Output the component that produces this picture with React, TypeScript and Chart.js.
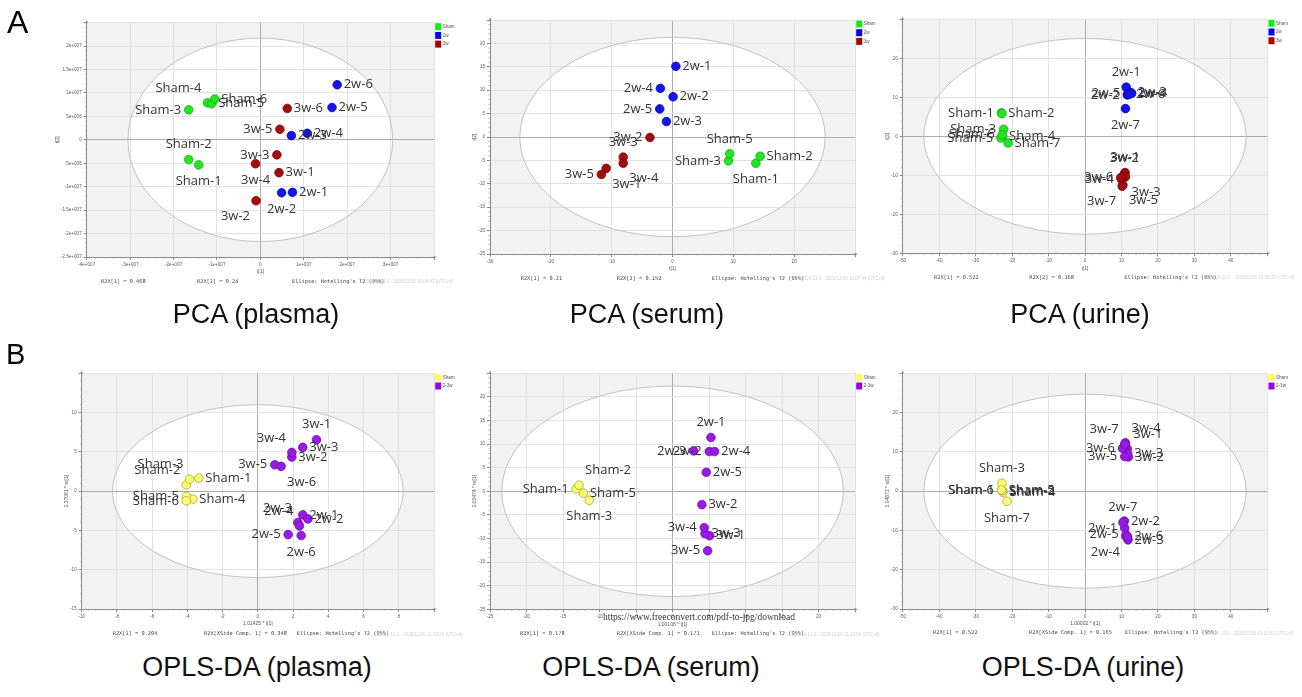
import React, { useEffect, useRef } from 'react';
import { Chart, registerables } from 'chart.js';

Chart.register(...registerables);

// ---------------- PCA (plasma) ----------------
const pcaPlasmaShamLabels = ['Sham-1', 'Sham-2', 'Sham-3', 'Sham-4', 'Sham-5', 'Sham-6'];
const pcaPlasmaShamX = [-1.42e7, -1.65e7, -1.65e7, -1.22e7, -1.12e7, -1.05e7];
const pcaPlasmaShamY = [-5.35e6, -4.2e6, 6.4e6, 7.9e6, 7.7e6, 8.7e6];
const pcaPlasmaShamSide = ['b', 'a', 'l', 'al', 'r', 'r'];
const pcaPlasma2wLabels = ['2w-1', '2w-2', '2w-3', '2w-4', '2w-5', '2w-6'];
const pcaPlasma2wX = [0.74e7, 0.49e7, 0.715e7, 1.08e7, 1.65e7, 1.77e7];
const pcaPlasma2wY = [-1.12e7, -1.13e7, 0.9e6, 1.4e6, 6.9e6, 1.176e7];
const pcaPlasma2wSide = ['r', 'b', 'r', 'r', 'r', 'r'];
const pcaPlasma3wLabels = ['3w-1', '3w-2', '3w-3', '3w-4', '3w-5', '3w-6'];
const pcaPlasma3wX = [0.43e7, -0.1e7, 0.38e7, -0.11e7, 0.45e7, 0.62e7];
const pcaPlasma3wY = [-7.0e6, -1.3e7, -3.2e6, -5.1e6, 2.25e6, 6.7e6];
const pcaPlasma3wSide = ['r', 'bl', 'l', 'b', 'l', 'r'];
const pcaPlasmaXTicks = [-4e7, -3e7, -2e7, -1e7, 0, 1e7, 2e7, 3e7, 4e7];
const pcaPlasmaYTicks = [-2.5e7, -2e7, -1.5e7, -1e7, -5e6, 0, 5e6, 1e7, 1.5e7, 2e7, 2.5e7];

// ---------------- PCA (serum) ----------------
const pcaSerumShamLabels = ['Sham-1', 'Sham-2', 'Sham-3', 'Sham-5'];
const pcaSerumShamX = [13.7, 14.4, 9.2, 9.4];
const pcaSerumShamY = [-5.6, -4.1, -5.1, -3.6];
const pcaSerumShamSide = ['b', 'r', 'l', 'a'];
const pcaSerum2wLabels = ['2w-1', '2w-2', '2w-3', '2w-4', '2w-5'];
const pcaSerum2wX = [0.55, 0.1, -1.0, -2.0, -2.1];
const pcaSerum2wY = [15.1, 8.6, 3.3, 10.4, 6.0];
const pcaSerum2wSide = ['r', 'r', 'r', 'l', 'l'];
const pcaSerum3wLabels = ['3w-1', '3w-2', '3w-3', '3w-4', '3w-5'];
const pcaSerum3wX = [-10.9, -3.7, -8.1, -8.1, -11.7];
const pcaSerum3wY = [-6.7, -0.1, -4.3, -5.6, -8.0];
const pcaSerum3wSide = ['br', 'l', 'a', 'br', 'l'];
const pcaSerumXTicks = [-30, -20, -10, 0, 10, 20, 30];
const pcaSerumYTicks = [-25, -20, -15, -10, -5, 0, 5, 10, 15, 20, 25];

// ---------------- PCA (urine) ----------------
const pcaUrineShamLabels = ['Sham-1', 'Sham-2', 'Sham-3', 'Sham-4', 'Sham-5', 'Sham-6', 'Sham-7'];
const pcaUrineShamX = [-22.9, -22.8, -22.3, -22.6, -23.1, -22.7, -21.1];
const pcaUrineShamY = [6.0, 5.8, 1.8, 0.0, -0.4, 0.4, -1.7];
const pcaUrineShamSide = ['l', 'r', 'l', 'r', 'l', 'l', 'r'];
const pcaUrine2wLabels = ['2w-1', '2w-2', '2w-3', '2w-4', '2w-5', '2w-6', '2w-7'];
const pcaUrine2wX = [11.3, 11.6, 12.6, 12.8, 11.8, 12.2, 11.1];
const pcaUrine2wY = [12.6, 10.6, 11.2, 11.0, 11.0, 10.8, 7.1];
const pcaUrine2wSide = ['a', 'l', 'r', 'r', 'l', 'r', 'b'];
const pcaUrine3wLabels = ['3w-1', '3w-2', '3w-3', '3w-4', '3w-5', '3w-6', '3w-7'];
const pcaUrine3wX = [11.0, 10.8, 11.1, 10.0, 10.4, 9.8, 10.2];
const pcaUrine3wY = [-9.3, -9.6, -10.4, -11.0, -12.5, -10.6, -12.8];
const pcaUrine3wSide = ['a', 'a', 'br', 'l', 'br', 'l', 'bl'];
const pcaUrineXTicks = [-50, -40, -30, -20, -10, 0, 10, 20, 30, 40, 50];
const pcaUrineYTicks = [-30, -20, -10, 0, 10, 20, 30];

// ---------------- OPLS-DA (plasma) ----------------
const oplsPlasmaShamLabels = ['Sham-1', 'Sham-2', 'Sham-3', 'Sham-4', 'Sham-5', 'Sham-6'];
const oplsPlasmaShamX = [-3.35, -4.06, -3.88, -3.69, -4.06, -4.06];
const oplsPlasmaShamY = [1.66, 0.81, 1.53, -1.02, -0.68, -1.23];
const oplsPlasmaShamSide = ['r', 'al', 'al', 'r', 'l', 'l'];
const oplsPlasmaTreatLabels = ['2w-1', '2w-2', '2w-3', '2w-4', '2w-5', '2w-6', '3w-1', '3w-2', '3w-3', '3w-4', '3w-5', '3w-6'];
const oplsPlasmaTreatX = [2.55, 2.84, 2.27, 2.36, 1.72, 2.46, 3.33, 1.93, 2.55, 1.93, 0.96, 1.32];
const oplsPlasmaTreatY = [-3.02, -3.53, -4.0, -4.42, -5.53, -5.65, 6.55, 4.34, 5.57, 4.93, 3.36, 3.15];
const oplsPlasmaTreatSide = ['r', 'r', 'al', 'al', 'l', 'b', 'a', 'r', 'r', 'al', 'l', 'br'];
const oplsPlasmaXTicks = [-10, -8, -6, -4, -2, 0, 2, 4, 6, 8, 10];
const oplsPlasmaYTicks = [-15, -10, -5, 0, 5, 10, 15];

// ---------------- OPLS-DA (serum) ----------------
const oplsSerumShamLabels = ['Sham-1', 'Sham-2', 'Sham-3', 'Sham-5'];
const oplsSerumShamX = [-13.2, -12.8, -11.4, -12.2];
const oplsSerumShamY = [0.5, 1.3, -1.9, -0.4];
const oplsSerumShamSide = ['l', 'ar', 'b', 'r'];
const oplsSerumTreatLabels = ['2w-1', '2w-2', '2w-3', '2w-4', '2w-5', '3w-1', '3w-2', '3w-3', '3w-4', '3w-5'];
const oplsSerumTreatX = [5.27, 5.04, 2.89, 5.77, 4.63, 5.09, 4.03, 4.45, 4.35, 4.81];
const oplsSerumTreatY = [11.4, 8.42, 8.56, 8.42, 4.03, -9.41, -2.83, -8.99, -7.71, -12.6];
const oplsSerumTreatSide = ['a', 'l', 'l', 'r', 'r', 'r', 'r', 'r', 'l', 'l'];
const oplsSerumXTicks = [-25, -20, -15, -10, -5, 0, 5, 10, 15, 20, 25];
const oplsSerumYTicks = [-25, -20, -15, -10, -5, 0, 5, 10, 15, 20, 25];

// ---------------- OPLS-DA (urine) ----------------
const oplsUrineShamLabels = ['Sham-1', 'Sham-2', 'Sham-3', 'Sham-4', 'Sham-5', 'Sham-6', 'Sham-7'];
const oplsUrineShamX = [-22.8, -22.6, -22.8, -22.5, -22.7, -22.9, -21.4];
const oplsUrineShamY = [0.2, 0.0, 2.0, -0.3, 0.1, 0.3, -2.6];
const oplsUrineShamSide = ['l', 'r', 'a', 'r', 'r', 'l', 'b'];
const oplsUrineTreatLabels = ['2w-1', '2w-2', '2w-3', '2w-4', '2w-5', '2w-6', '2w-7', '3w-1', '3w-2', '3w-3', '3w-4', '3w-5', '3w-6', '3w-7'];
const oplsUrineTreatX = [10.9, 10.8, 11.8, 11.2, 11.3, 11.7, 10.4, 11.6, 11.9, 11.7, 11.1, 10.9, 10.3, 10.9];
const oplsUrineTreatY = [-9.4, -7.6, -12.4, -11.5, -11.1, -11.6, -8.0, 10.8, 8.7, 9.6, 12.3, 8.8, 10.9, 12.0];
const oplsUrineTreatSide = ['l', 'r', 'r', 'bl', 'l', 'r', 'a', 'ar', 'r', 'r', 'ar', 'l', 'l', 'al'];
const oplsUrineXTicks = [-50, -40, -30, -20, -10, 0, 10, 20, 30, 40, 50];
const oplsUrineYTicks = [-30, -20, -10, 0, 10, 20, 30];

// ---------------- styling ----------------
const GREEN = { fill: '#22e622', border: '#18a818' };
const BLUE = { fill: '#1414f0', border: '#0a0aa0' };
const RED = { fill: '#a50d0d', border: '#700808' };
const YELLOW = { fill: '#ffff6e', border: '#a3a345' };
const PURPLE = { fill: '#9a19e6', border: '#6a0fa3' };

const TICK_FONT = '"Liberation Sans", Arial, sans-serif';
const LABEL_FONT = '"Open Sans", "Noto Sans", sans-serif';
const MONO_FONT = '"DejaVu Sans Mono", "Liberation Mono", monospace';

type Group = { name: string; color: { fill: string; border: string }; labels: string[]; x: number[]; y: number[]; side: string[] };

type PanelCfg = {
  canvas: { left: number; top: number; width: number; height: number };
  plot: { l: number; t: number; r: number; b: number };
  xMin: number; xMax: number; yMin: number; yMax: number;
  xTicks: number[]; yTicks: number[];
  ellipse: [number, number];
  sci: boolean;
  groups: Group[];
  legend: { name: string; color: string }[];
  xTitle: string; yTitle: string;
  footers: string[]; footerX: number[]; footerDy: number;
  watermark: string; watermarkDx: number;
};

const fmtSci = (v: number) => {
  if (v === 0) return '0';
  const e = Math.floor(Math.log10(Math.abs(v)) + 1e-9);
  const m = +(v / Math.pow(10, e)).toFixed(3);
  return m + 'e+' + String(e).padStart(3, '0');
};

const PCA_LEGEND = [
  { name: 'Sham', color: '#11ee11' },
  { name: '2w', color: '#0000ee' },
  { name: '3w', color: '#aa0000' },
];
const OPLS_LEGEND = [
  { name: 'Sham', color: '#ffff55' },
  { name: '2-3w', color: '#9900ee' },
];

const PANELS: PanelCfg[] = [
  {
    canvas: { left: 20, top: 0, width: 450, height: 300 },
    plot: { l: 86.7, t: 22.7, r: 434, b: 257 },
    xMin: -4e7, xMax: 4e7, yMin: -2.5e7, yMax: 2.5e7,
    xTicks: pcaPlasmaXTicks, yTicks: pcaPlasmaYTicks, ellipse: [3.05e7, 2.17e7], sci: true,
    groups: [
      { name: 'Sham', color: GREEN, labels: pcaPlasmaShamLabels, x: pcaPlasmaShamX, y: pcaPlasmaShamY, side: pcaPlasmaShamSide },
      { name: '2w', color: BLUE, labels: pcaPlasma2wLabels, x: pcaPlasma2wX, y: pcaPlasma2wY, side: pcaPlasma2wSide },
      { name: '3w', color: RED, labels: pcaPlasma3wLabels, x: pcaPlasma3wX, y: pcaPlasma3wY, side: pcaPlasma3wSide },
    ],
    legend: PCA_LEGEND, xTitle: 't[1]', yTitle: 't[2]',
    footers: ['R2X[1] = 0.468', 'R2X[2] = 0.24', "Ellipse: Hotelling's T2 (95%)"], footerX: [14.3, 110.3, 205.3], footerDy: 24.7,
    watermark: 'SIMCA 13.0 - 2020/12/16 10:08:43 (UTC+8)', watermarkDx: -69,
  },
  {
    canvas: { left: 440, top: 0, width: 450, height: 300 },
    plot: { l: 490, t: 20, r: 855, b: 254 },
    xMin: -30, xMax: 30, yMin: -25, yMax: 25,
    xTicks: pcaSerumXTicks, yTicks: pcaSerumYTicks, ellipse: [25.1, 21.3], sci: false,
    groups: [
      { name: 'Sham', color: GREEN, labels: pcaSerumShamLabels, x: pcaSerumShamX, y: pcaSerumShamY, side: pcaSerumShamSide },
      { name: '2w', color: BLUE, labels: pcaSerum2wLabels, x: pcaSerum2wX, y: pcaSerum2wY, side: pcaSerum2wSide },
      { name: '3w', color: RED, labels: pcaSerum3wLabels, x: pcaSerum3wX, y: pcaSerum3wY, side: pcaSerum3wSide },
    ],
    legend: PCA_LEGEND, xTitle: 't[1]', yTitle: 't[2]',
    footers: ['R2X[1] = 0.21', 'R2X[2] = 0.152', "Ellipse: Hotelling's T2 (95%)"], footerX: [30.7, 126.7, 221.7], footerDy: 24.3,
    watermark: 'SIMCA 13.0 - 2020/12/16 10:07:44 (UTC+8)', watermarkDx: -58,
  },
  {
    canvas: { left: 860, top: 0, width: 442, height: 300 },
    plot: { l: 902.7, t: 19.3, r: 1267.3, b: 253.3 },
    xMin: -50, xMax: 50, yMin: -30, yMax: 30,
    xTicks: pcaUrineXTicks, yTicks: pcaUrineYTicks, ellipse: [44.2, 25.1], sci: false,
    groups: [
      { name: 'Sham', color: GREEN, labels: pcaUrineShamLabels, x: pcaUrineShamX, y: pcaUrineShamY, side: pcaUrineShamSide },
      { name: '2w', color: BLUE, labels: pcaUrine2wLabels, x: pcaUrine2wX, y: pcaUrine2wY, side: pcaUrine2wSide },
      { name: '3w', color: RED, labels: pcaUrine3wLabels, x: pcaUrine3wX, y: pcaUrine3wY, side: pcaUrine3wSide },
    ],
    legend: PCA_LEGEND, xTitle: 't[1]', yTitle: 't[2]',
    footers: ['R2X[1] = 0.522', 'R2X[2] = 0.168', "Ellipse: Hotelling's T2 (95%)"], footerX: [31.3, 126.6, 221.6], footerDy: 24.4,
    watermark: 'SIMCA 13.0 - 2020/12/16 10:08:25 (UTC+8)', watermarkDx: -61,
  },
  {
    canvas: { left: 20, top: 345, width: 450, height: 300 },
    plot: { l: 81.7, t: 373.3, r: 434, b: 609 },
    xMin: -10, xMax: 10, yMin: -15, yMax: 15,
    xTicks: oplsPlasmaXTicks, yTicks: oplsPlasmaYTicks, ellipse: [8.25, 11.0], sci: false,
    groups: [
      { name: 'Sham', color: YELLOW, labels: oplsPlasmaShamLabels, x: oplsPlasmaShamX, y: oplsPlasmaShamY, side: oplsPlasmaShamSide },
      { name: '2-3w', color: PURPLE, labels: oplsPlasmaTreatLabels, x: oplsPlasmaTreatX, y: oplsPlasmaTreatY, side: oplsPlasmaTreatSide },
    ],
    legend: OPLS_LEGEND, xTitle: '1.01425 * t[1]', yTitle: '1.37061 * to[1]',
    footers: ['R2X[1] = 0.204', 'R2X[XSide Comp. 1] = 0.348', "Ellipse: Hotelling's T2 (95%)"], footerX: [31, 122.3, 215], footerDy: 25,
    watermark: 'SIMCA 13.0 - 2020/12/16 11:13:59 (UTC+8)', watermarkDx: -59,
  },
  {
    canvas: { left: 440, top: 345, width: 450, height: 300 },
    plot: { l: 490, t: 373.3, r: 855, b: 609.3 },
    xMin: -25, xMax: 25, yMin: -25, yMax: 25,
    xTicks: oplsSerumXTicks, yTicks: oplsSerumYTicks, ellipse: [23.4, 22.3], sci: false,
    groups: [
      { name: 'Sham', color: YELLOW, labels: oplsSerumShamLabels, x: oplsSerumShamX, y: oplsSerumShamY, side: oplsSerumShamSide },
      { name: '2-3w', color: PURPLE, labels: oplsSerumTreatLabels, x: oplsSerumTreatX, y: oplsSerumTreatY, side: oplsSerumTreatSide },
    ],
    legend: OPLS_LEGEND, xTitle: '1.00108 * t[1]', yTitle: '1.05474 * to[1]',
    footers: ['R2X[1] = 0.178', 'R2X[XSide Comp. 1] = 0.171', "Ellipse: Hotelling's T2 (95%)"], footerX: [30, 126.7, 221.7], footerDy: 24.7,
    watermark: 'SIMCA 13.0 - 2020/12/16 11:15:54 (UTC+8)', watermarkDx: -63,
  },
  {
    canvas: { left: 860, top: 345, width: 442, height: 300 },
    plot: { l: 902.7, t: 373.3, r: 1267.3, b: 609 },
    xMin: -50, xMax: 50, yMin: -30, yMax: 30,
    xTicks: oplsUrineXTicks, yTicks: oplsUrineYTicks, ellipse: [44.2, 24.7], sci: false,
    groups: [
      { name: 'Sham', color: YELLOW, labels: oplsUrineShamLabels, x: oplsUrineShamX, y: oplsUrineShamY, side: oplsUrineShamSide },
      { name: '2-3w', color: PURPLE, labels: oplsUrineTreatLabels, x: oplsUrineTreatX, y: oplsUrineTreatY, side: oplsUrineTreatSide },
    ],
    legend: OPLS_LEGEND, xTitle: '1.00002 * t[1]', yTitle: '1.04872 * to[1]',
    footers: ['R2X[1] = 0.522', 'R2X[XSide Comp. 1] = 0.165', "Ellipse: Hotelling's T2 (95%)"], footerX: [30.3, 126.3, 222.3], footerDy: 24,
    watermark: 'SIMCA 13.0 - 2020/12/16 10:10:50 (UTC+8)', watermarkDx: -62,
  },
];

function drawLabel(ctx: CanvasRenderingContext2D, text: string, px: number, py: number, side: string) {
  let align: CanvasTextAlign = 'left';
  let x = px;
  let y = py;
  switch (side) {
    case 'r': x = px + 6.5; break;
    case 'l': align = 'right'; x = px - 7.5; break;
    case 'a': align = 'center'; y = py - 15; break;
    case 'b': align = 'center'; y = py + 16.5; break;
    case 'al': align = 'right'; x = px - 6; y = py - 14.5; break;
    case 'ar': x = px + 6; y = py - 14.5; break;
    case 'bl': align = 'right'; x = px - 6; y = py + 15.5; break;
    case 'br': x = px + 6; y = py + 15.5; break;
  }
  ctx.textAlign = align;
  ctx.textBaseline = 'middle';
  ctx.fillText(text, x, y);
}

function Panel({ cfg }: { cfg: PanelCfg }) {
  const ref = useRef<HTMLCanvasElement | null>(null);
  useEffect(() => {
    if (!ref.current) return;
    const c = cfg.canvas;
    const p = cfg.plot;
    const yAxisW = p.l - c.left;
    const xAxisH = c.top + c.height - p.b;
    const fmt = (v: number) => (cfg.sci ? fmtSci(v) : String(v));
    const gridColor = (ctx: any) => (ctx.tick && ctx.tick.value === 0 ? '#acacac' : '#e2e2e2');

    const simcaPlugin = {
      id: 'simca',
      beforeDraw(chart: any) {
        const { ctx, chartArea: a, scales } = chart;
        ctx.save();
        ctx.fillStyle = '#f2f2f2';
        ctx.fillRect(a.left, a.top, a.right - a.left, a.bottom - a.top);
        const cx = scales.x.getPixelForValue(0);
        const cy = scales.y.getPixelForValue(0);
        const rx = scales.x.getPixelForValue(cfg.ellipse[0]) - cx;
        const ry = cy - scales.y.getPixelForValue(cfg.ellipse[1]);
        ctx.beginPath();
        ctx.ellipse(cx, cy, rx, ry, 0, 0, Math.PI * 2);
        ctx.fillStyle = '#ffffff';
        ctx.fill();
        ctx.restore();
      },
      beforeDatasetsDraw(chart: any) {
        const { ctx, chartArea: a, scales } = chart;
        ctx.save();
        const cx = scales.x.getPixelForValue(0);
        const cy = scales.y.getPixelForValue(0);
        const rx = scales.x.getPixelForValue(cfg.ellipse[0]) - cx;
        const ry = cy - scales.y.getPixelForValue(cfg.ellipse[1]);
        ctx.beginPath();
        ctx.ellipse(cx, cy, rx, ry, 0, 0, Math.PI * 2);
        ctx.strokeStyle = '#c2c2c2';
        ctx.lineWidth = 1;
        ctx.stroke();
        // minor ticks
        ctx.strokeStyle = '#9a9a9a';
        ctx.lineWidth = 0.6;
        ctx.beginPath();
        const xs = cfg.xTicks;
        for (let i = 0; i < xs.length - 1; i++) {
          const st = (xs[i + 1] - xs[i]) / 5;
          for (let k = 1; k < 5; k++) {
            const px = scales.x.getPixelForValue(xs[i] + st * k);
            ctx.moveTo(px, a.bottom);
            ctx.lineTo(px, a.bottom + 1.8);
          }
        }
        const ys = cfg.yTicks;
        for (let i = 0; i < ys.length - 1; i++) {
          const st = (ys[i + 1] - ys[i]) / 5;
          for (let k = 1; k < 5; k++) {
            const py = scales.y.getPixelForValue(ys[i] + st * k);
            ctx.moveTo(a.left, py);
            ctx.lineTo(a.left - 1.8, py);
          }
        }
        ctx.stroke();
        // axis arrows
        ctx.fillStyle = '#8a8a8a';
        ctx.beginPath();
        ctx.moveTo(a.left, a.top - 3);
        ctx.lineTo(a.left - 1.3, a.top + 0.5);
        ctx.lineTo(a.left + 1.3, a.top + 0.5);
        ctx.fill();
        ctx.beginPath();
        ctx.moveTo(a.right + 3, a.bottom);
        ctx.lineTo(a.right - 0.5, a.bottom - 1.3);
        ctx.lineTo(a.right - 0.5, a.bottom + 1.3);
        ctx.fill();
        ctx.restore();
      },
      afterDatasetsDraw(chart: any) {
        const { ctx, chartArea: a, scales } = chart;
        ctx.save();
        // point labels
        ctx.font = `13px ${LABEL_FONT}`;
        ctx.fillStyle = '#333333';
        cfg.groups.forEach((g) => {
          g.labels.forEach((lab, i) => {
            const px = scales.x.getPixelForValue(g.x[i]);
            const py = scales.y.getPixelForValue(g.y[i]);
            drawLabel(ctx, lab, px, py, g.side[i]);
          });
        });
        // legend
        cfg.legend.forEach((e, i) => {
          const lx = a.right + 1.2;
          const ly = a.top + 0.5 + i * 8.7;
          ctx.fillStyle = e.color;
          ctx.fillRect(lx, ly, 6, 7);
          ctx.fillStyle = '#555';
          ctx.font = `4.6px ${TICK_FONT}`;
          ctx.textAlign = 'left';
          ctx.textBaseline = 'middle';
          ctx.fillText(e.name, lx + 7.5, ly + 3.5);
        });
        // axis titles
        ctx.fillStyle = '#555';
        ctx.font = `5px ${TICK_FONT}`;
        ctx.textAlign = 'center';
        ctx.textBaseline = 'middle';
        ctx.fillText(cfg.xTitle, (a.left + a.right) / 2, a.bottom + 15);
        ctx.font = `4.5px ${TICK_FONT}`;
        let maxW = 0;
        cfg.yTicks.forEach((v) => {
          if (v === cfg.yMax) return;
          maxW = Math.max(maxW, ctx.measureText(fmt(v)).width);
        });
        ctx.save();
        ctx.translate(a.left - 5 - maxW - 4, (a.top + a.bottom) / 2);
        ctx.rotate(-Math.PI / 2);
        ctx.font = `5px ${TICK_FONT}`;
        ctx.fillText(cfg.yTitle, 0, 0);
        ctx.restore();
        // footers
        ctx.font = `5.3px ${MONO_FONT}`;
        ctx.fillStyle = '#444';
        ctx.textAlign = 'left';
        cfg.footers.forEach((f, i) => {
          ctx.fillText(f, a.left + cfg.footerX[i], a.bottom + cfg.footerDy);
        });
        ctx.font = `4.5px ${TICK_FONT}`;
        ctx.fillStyle = '#cfcfcf';
        ctx.fillText(cfg.watermark, a.right + cfg.watermarkDx, a.bottom + cfg.footerDy + 0.5);
        ctx.restore();
      },
    };

    const tickOpts = {
      autoSkip: false,
      maxRotation: 0,
      minRotation: 0,
      padding: 2,
      color: '#5a5a5a',
      font: { size: 4.6, family: TICK_FONT },
    };

    const chart = new Chart(ref.current, {
      type: 'scatter',
      data: {
        datasets: cfg.groups.map((g) => ({
          label: g.name,
          data: g.x.map((v, i) => ({ x: v, y: g.y[i] })),
          backgroundColor: g.color.fill,
          borderColor: g.color.border,
          borderWidth: 0.8,
          pointRadius: 4.3,
          pointHoverRadius: 4.3,
        })),
      },
      options: {
        animation: false,
        responsive: false,
        maintainAspectRatio: false,
        events: [],
        layout: { padding: { top: p.t - c.top, right: c.left + c.width - p.r, left: 0, bottom: 0 } },
        plugins: { legend: { display: false }, tooltip: { enabled: false } },
        scales: {
          x: {
            type: 'linear',
            min: cfg.xMin,
            max: cfg.xMax,
            afterBuildTicks: (s: any) => { s.ticks = cfg.xTicks.map((v) => ({ value: v })); },
            afterFit: (s: any) => { s.height = xAxisH; },
            ticks: { ...tickOpts, callback: (v: any) => (v === cfg.xMax ? '' : fmt(Number(v))) },
            grid: { color: gridColor, tickColor: '#8a8a8a', tickLength: 3, lineWidth: 1 },
            border: { color: '#8a8a8a', width: 1 },
          },
          y: {
            type: 'linear',
            min: cfg.yMin,
            max: cfg.yMax,
            afterBuildTicks: (s: any) => { s.ticks = cfg.yTicks.map((v) => ({ value: v })); },
            afterFit: (s: any) => { s.width = yAxisW; },
            ticks: { ...tickOpts, callback: (v: any) => (v === cfg.yMax ? '' : fmt(Number(v))) },
            grid: { color: gridColor, tickColor: '#8a8a8a', tickLength: 3, lineWidth: 1 },
            border: { color: '#8a8a8a', width: 1 },
          },
        },
      } as any,
      plugins: [simcaPlugin],
    });
    return () => chart.destroy();
  }, [cfg]);

  return (
    <canvas
      ref={ref}
      width={cfg.canvas.width}
      height={cfg.canvas.height}
      style={{
        position: 'absolute',
        left: cfg.canvas.left,
        top: cfg.canvas.top,
        width: cfg.canvas.width,
        height: cfg.canvas.height,
      }}
    />
  );
}

const CAPTIONS = [
  { text: 'PCA (plasma)', x: 256, baseline: 323.3 },
  { text: 'PCA (serum)', x: 647, baseline: 323.3 },
  { text: 'PCA (urine)', x: 1080, baseline: 323.3 },
  { text: 'OPLS-DA (plasma)', x: 257, baseline: 676.5 },
  { text: 'OPLS-DA (serum)', x: 651, baseline: 676.5 },
  { text: 'OPLS-DA (urine)', x: 1083, baseline: 676.5 },
];

export default function App() {
  const capFont = '"Liberation Sans", Arial, sans-serif';
  return (
    <div style={{ position: 'absolute', left: 0, top: 0, width: 1302, height: 697, background: '#fff', overflow: 'hidden' }}>
      {PANELS.map((cfg, i) => (
        <Panel key={i} cfg={cfg} />
      ))}
      <div style={{ position: 'absolute', left: 7, top: 5.9, fontFamily: capFont, fontSize: 32, lineHeight: '32px', color: '#000' }}>A</div>
      <div style={{ position: 'absolute', left: 6, top: 339.5, fontFamily: capFont, fontSize: 29, lineHeight: '29px', color: '#000' }}>B</div>
      {CAPTIONS.map((c, i) => (
        <div
          key={i}
          style={{
            position: 'absolute',
            left: c.x - 200,
            width: 400,
            top: c.baseline - 22.8,
            textAlign: 'center',
            fontFamily: capFont,
            fontSize: 27,
            lineHeight: '27px',
            color: '#111',
            whiteSpace: 'nowrap',
          }}
        >
          {c.text}
        </div>
      ))}
      <div
        style={{
          position: 'absolute',
          left: 603,
          top: 612,
          fontFamily: '"Liberation Serif", "Times New Roman", serif',
          fontSize: 9.5,
          lineHeight: '10px',
          color: '#333',
          whiteSpace: 'nowrap',
        }}
      >
        https://www.freeconvert.com/pdf-to-jpg/download
      </div>
    </div>
  );
}
